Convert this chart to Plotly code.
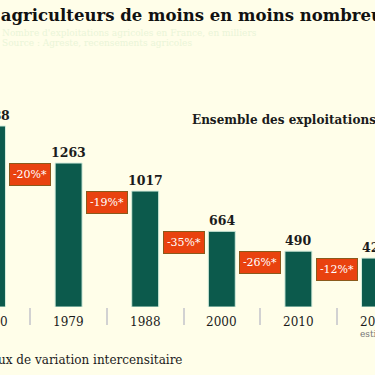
import plotly.graph_objects as go

years = ["1970", "1979", "1988", "2000", "2010", "2020"]
values = [1588, 1263, 1017, 664, 490, 429]
variations = ["-20%*", "-19%*", "-35%*", "-26%*", "-12%*"]

title = "Des agriculteurs de moins en moins nombreux"
subtitle1 = "Nombre d'exploitations agricoles en France, en milliers"
subtitle2 = "Source : Agreste, recensements agricoles"
series_label = "Ensemble des exploitations"
footnote = "* Taux de variation intercensitaire"
estimation = "estimation"

BG = "#FFFEE9"
BAR = "#0C5A4C"
RED = "#E9420F"
TXT = "#1B1B1B"
FONT = "DejaVu Serif"

W = H = 375
plot_h = 307
px_per_unit = 0.114
step = 76.6
offset = 8
x = list(range(len(years)))

fig = go.Figure()
fig.add_trace(go.Bar(
    x=x, y=values, width=0.352,
    marker=dict(color=BAR, line=dict(color="#d4eddc", width=1)),
    cliponaxis=False, hoverinfo="skip",
))

def py(p):
    return 1 - p / plot_h

def paper_x(i):
    return (i * step - offset) / W

annotations = []
for i, lab in enumerate(variations):
    annotations.append(dict(
        x=i + 0.5, y=values[i + 1], xref="x", yref="y",
        xanchor="center", yanchor="top", text=lab, showarrow=False,
        font=dict(family=FONT, size=11, color="white"),
        bgcolor=RED, bordercolor="#8a5a1c", borderwidth=1, borderpad=1,
        width=38, height=19, align="center",
    ))
for i, (yr, v) in enumerate(zip(years, values)):
    annotations.append(dict(
        x=paper_x(i), y=py(322), xref="paper", yref="paper", xanchor="center", yanchor="middle",
        text=yr, showarrow=False, font=dict(family=FONT, size=12, color=TXT),
    ))
    annotations.append(dict(
        x=paper_x(i), y=v, xref="paper", yref="y", xanchor="center", yanchor="bottom",
        yshift=1, text="<b>%d</b>" % v, showarrow=False,
        font=dict(family=FONT, size=12.5, color=TXT),
    ))

x0 = offset / step

annotations += [
    dict(x=-41 / W, y=py(15), xref="paper", yref="paper", xanchor="left", yanchor="middle",
         text="<b>" + title + "</b>", showarrow=False,
         font=dict(family=FONT, size=16.5, color="#111")),
    dict(x=0, y=py(33), xref="paper", yref="paper", xanchor="left", yanchor="middle",
         text=subtitle1, showarrow=False, font=dict(family=FONT, size=9, color="#EAF5D8")),
    dict(x=0, y=py(43), xref="paper", yref="paper", xanchor="left", yanchor="middle",
         text=subtitle2, showarrow=False, font=dict(family=FONT, size=9, color="#EAF5D8")),
    dict(x=190 / W, y=py(120), xref="paper", yref="paper", xanchor="left", yanchor="middle",
         text="<b>" + series_label + "</b>", showarrow=False,
         font=dict(family=FONT, size=12, color=TXT)),
    dict(x=-28 / W, y=py(360), xref="paper", yref="paper", xanchor="left", yanchor="middle",
         text=footnote, showarrow=False, font=dict(family=FONT, size=12, color=TXT)),
    dict(x=358 / W, y=py(334), xref="paper", yref="paper", xanchor="left", yanchor="middle",
         text=estimation, showarrow=False, font=dict(family=FONT, size=9, color="#777")),
]

fig.update_layout(
    width=W, height=H, paper_bgcolor=BG, plot_bgcolor=BG,
    margin=dict(l=0, r=0, t=0, b=H - plot_h),
    showlegend=False, annotations=annotations,
    xaxis=dict(range=[x0, x0 + W / step], tickvals=x, showticklabels=False, ticks="",
               showgrid=False, zeroline=False, showline=False,
               minor=dict(tick0=0.5, dtick=1, ticks="outside", ticklen=17,
                          tickcolor="#d2d2d2", tickwidth=2, showgrid=False)),
    yaxis=dict(range=[0, plot_h / px_per_unit], visible=False, showgrid=False, zeroline=False),
)
fig.write_html("out.html", config={"displayModeBar": False},
               post_script="document.body.style.margin='0';document.body.style.background='#FFFEE9';")
